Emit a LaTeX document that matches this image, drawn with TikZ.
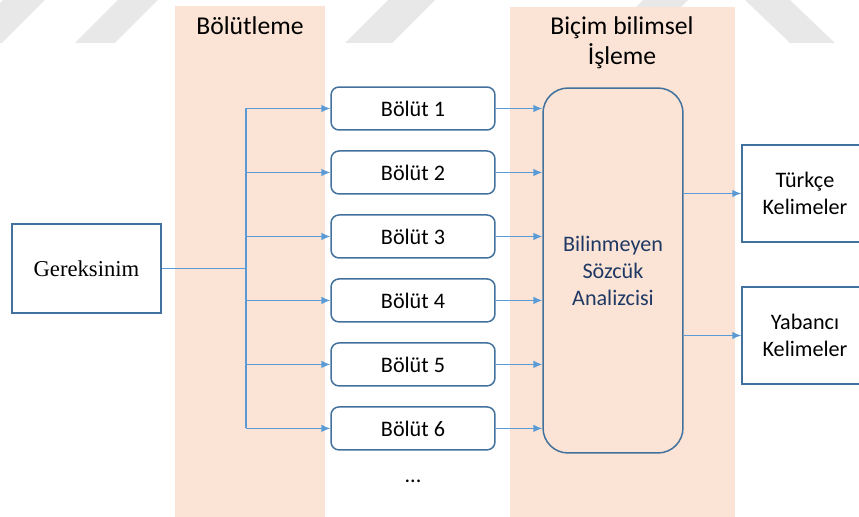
\documentclass[tikz,border=0pt]{standalone}
\usepackage{fontspec}
\setmainfont{Carlito}
\newfontfamily\serifnames{Liberation Serif}
\usepackage{xcolor}
\usetikzlibrary{positioning, arrows.meta}

\definecolor{bandpeach}{RGB}{251,228,213}
\definecolor{edgeblue}{RGB}{65,113,156}
\definecolor{arrowblue}{RGB}{91,155,213}
\definecolor{textnavy}{RGB}{31,56,100}
\definecolor{markgray}{RGB}{232,232,232}

\begin{document}
\begin{tikzpicture}[ x = 0.02cm, y = -0.02cm
                     , node distance = 0.39cm
                     , >={Latex[width=4.2pt, length=5pt]}
                     , segment/.style = { rectangle
                                        , rounded corners = 0.16cm
                                        , draw = edgeblue
                                        , line width = 0.85pt
                                        , fill = white
                                        , minimum width = 3.28cm
                                        , minimum height = 0.86cm
                                        , font = \fontsize{12.6}{15}\selectfont }
                     , wordbox/.style = { rectangle
                                        , draw = edgeblue
                                        , line width = 0.85pt
                                        , fill = white
                                        , align = center
                                        , minimum width = 2.52cm
                                        , minimum height = 1.94cm
                                        , font = \fontsize{12.6}{15.4}\selectfont }
                     , bandtitle/.style = { align = center
                                          , font = \fontsize{14.6}{16.9}\selectfont }
                     , flow/.style = { ->, draw = arrowblue, line width = 0.6pt }
                     ]

  \useasboundingbox (0,0) rectangle (859,517);
  \clip (0,0) rectangle (859,517);

  % faint slanted stripes along the top edge
  \fill[markgray] (-40,43) -- (2,43) -- (45,0) -- (3,0) -- cycle;
  \fill[markgray] (75,43) -- (115,43) -- (158,0) -- (118,0) -- cycle;
  \fill[markgray] (345,43) -- (392,43) -- (435,0) -- (388,0) -- cycle;
  \fill[markgray] (600,43) -- (645,43) -- (688,0) -- (643,0) -- cycle;
  \fill[markgray] (745,0) -- (790,0) -- (835,43) -- (790,43) -- cycle;

  % the two stage bands
  \fill[bandpeach] (175,6) rectangle (325,517);
  \fill[bandpeach] (510,7) rectangle (735,517);

  \node (segtitle) [bandtitle] at (250,26) {Bölütleme};
  \node (morphtitle) [bandtitle] at (622,43) {Biçim bilimsel\\İşleme};

  \node (need) [ rectangle, draw = edgeblue, line width = 0.85pt, fill = white
               , minimum width = 2.98cm, minimum height = 1.78cm
               , font = \serifnames\fontsize{12.9}{15}\selectfont ]
    at (86.5,268.5) {Gereksinim};

  \node (seg1) [segment] at (413,108.5) {Bölüt 1};
  \node (seg2) [segment, below = of seg1] {Bölüt 2};
  \node (seg3) [segment, below = of seg2] {Bölüt 3};
  \node (seg4) [segment, below = of seg3] {Bölüt 4};
  \node (seg5) [segment, below = of seg4] {Bölüt 5};
  \node (seg6) [segment, below = of seg5] {Bölüt 6};
  \node (more) [below = 0.46cm of seg6, font = \fontsize{12.6}{15}\selectfont] {...};

  \node (analyzer) [ rectangle, rounded corners = 0.5cm, draw = edgeblue
                   , line width = 0.85pt, minimum width = 2.8cm, minimum height = 7.3cm
                   , align = center, text = textnavy
                   , font = \fontsize{12.6}{15.4}\selectfont ]
    at (613,270.5) {Bilinmeyen\\Sözcük\\Analizcisi};

  \node (turkish) [wordbox] at (805,193.5) {Türkçe\\Kelimeler};
  \node (foreign) [wordbox] at (805,335.5) {Yabancı\\Kelimeler};

  % fan out from the input to every segment
  \coordinate (split) at (246,268.5);
  \draw[arrowblue, line width = 0.6pt] (need.east) -- (split);
  \draw[arrowblue, line width = 0.6pt] (split |- seg1) -- (split |- seg6);
  \draw[flow] (split |- seg1) -- (seg1.west);
  \draw[flow] (split |- seg2) -- (seg2.west);
  \draw[flow] (split |- seg3) -- (seg3.west);
  \draw[flow] (split |- seg4) -- (seg4.west);
  \draw[flow] (split |- seg5) -- (seg5.west);
  \draw[flow] (split |- seg6) -- (seg6.west);

  % segments into the analyser
  \draw[flow] (seg1.east) -- (seg1.east -| analyzer.west);
  \draw[flow] (seg2.east) -- (seg2.east -| analyzer.west);
  \draw[flow] (seg3.east) -- (seg3.east -| analyzer.west);
  \draw[flow] (seg4.east) -- (seg4.east -| analyzer.west);
  \draw[flow] (seg5.east) -- (seg5.east -| analyzer.west);
  \draw[flow] (seg6.east) -- (seg6.east -| analyzer.west);

  % analyser outputs
  \draw[flow] (analyzer.east |- turkish) -- (turkish.west);
  \draw[flow] (analyzer.east |- foreign) -- (foreign.west);

\end{tikzpicture}
\end{document}
